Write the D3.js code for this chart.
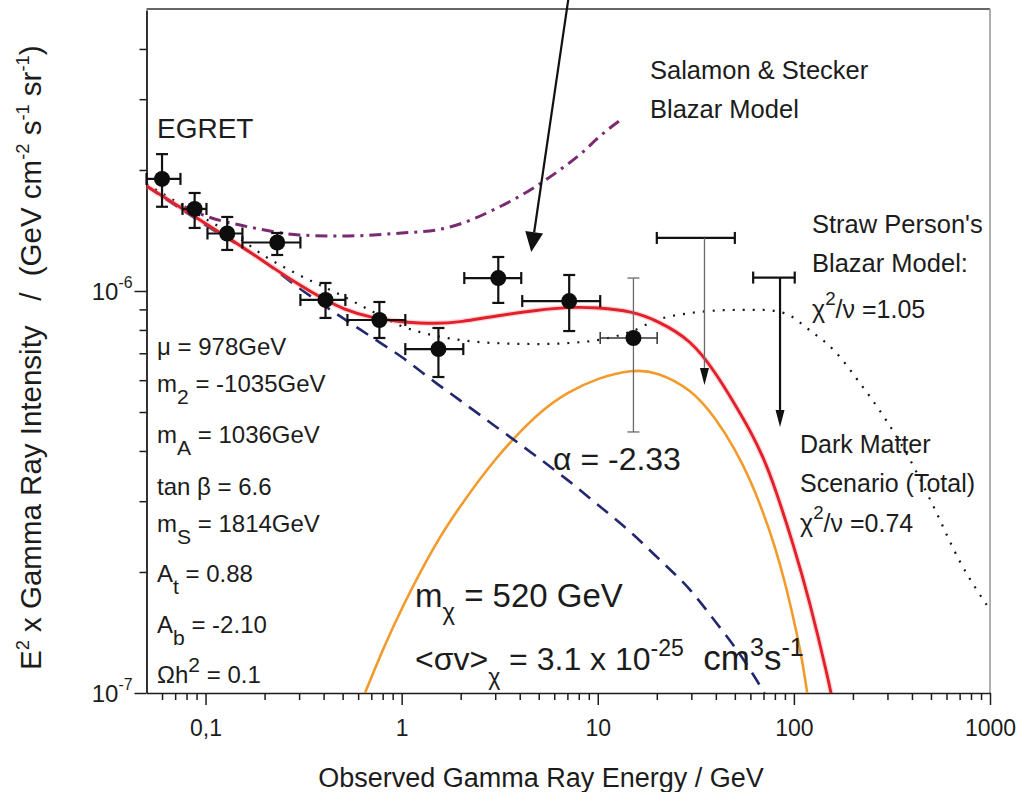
<!DOCTYPE html>
<html>
<head>
<meta charset="utf-8">
<script src="https://cdn.jsdelivr.net/npm/d3@7"></script>
<style>
  html, body { margin: 0; padding: 0; background: #fff; }
  svg { display: block; font-family: "Liberation Sans", Arial, Helvetica, sans-serif; }
</style>
</head>
<body>
<svg id="chart" width="1029" height="792"></svg>
<script>
// ---- EGRET extragalactic gamma-ray background ----
// energies in GeV, E^2 x intensity in units of 1e-6 GeV cm^-2 s^-1 sr^-1
const egretE   = [0.060, 0.088, 0.129, 0.232, 0.409, 0.770, 1.54, 3.11, 7.15, 15.2];
const egretI   = [1.90, 1.60, 1.39, 1.32, 0.950, 0.847, 0.717, 1.077, 0.944, 0.764];
const egretIlo = [1.62, 1.435, 1.265, 1.229, 0.857, 0.764, 0.611, 0.934, 0.795, 0.446];
const egretIhi = [2.19, 1.753, 1.528, 1.394, 1.047, 0.939, 0.809, 1.215, 1.096, 1.077];
const egretElo = [0.05, 0.0763, 0.1023, 0.1542, 0.3046, 0.529, 1.044, 2.086, 4.12, 10.29];
const egretEhi = [0.0745, 0.1011, 0.1542, 0.3046, 0.5164, 1.044, 2.062, 4.072, 10.29, 20.08];

// upper limits at the highest energies
const limitE     = [35, 85];
const limitElo   = [20, 62];
const limitEhi   = [50, 101];
const limitI     = [1.355, 1.08];
const limitArrow = [0.584, 0.459];

// model curves: [energy GeV, E^2 x intensity / 1e-6]
const totalCurve = [[0.05,1.824],[0.07,1.646],[0.1,1.47],[0.15,1.30],[0.2,1.18],[0.3,1.035],[0.4,0.955],
  [0.5,0.902],[0.7,0.857],[1,0.837],[1.5,0.828],[2,0.837],[3,0.867],[5,0.897],[7,0.912],[10,0.91],
  [15,0.89],[20,0.845],[30,0.755],[40,0.625],[50,0.523],[60,0.449],[70,0.385],[80,0.325],[100,0.232],
  [120,0.170],[150,0.108],[160,0.092]];

const powerLawCurve = [[0.05,1.824],[0.1,1.459],[0.2,1.181],[0.3,1.017],[0.5,0.857],[0.7,0.769],[1,0.685],
  [1.5,0.590],[2,0.533],[3,0.461],[5,0.384],[7,0.339],[10,0.294],[15,0.249],[20,0.218],[30,0.179],
  [40,0.150],[50,0.130],[60,0.114],[70,0.1006],[80,0.088]];

const darkMatterCurve = [[0.65,0.100],[0.8,0.128],[1,0.163],[1.5,0.238],[2,0.293],[3,0.385],[5,0.500],
  [7,0.560],[10,0.608],[15,0.638],[20,0.630],[30,0.570],[40,0.482],[50,0.405],[60,0.339],[70,0.280],
  [80,0.232],[90,0.189],[100,0.152],[110,0.122],[117,0.100],[125,0.080]];

const strawCurve = [[0.05,1.846],[0.1,1.511],[0.15,1.347],[0.2,1.222],[0.3,1.096],[0.5,0.972],[0.7,0.892],
  [1,0.818],[1.5,0.773],[2,0.755],[3,0.742],[5,0.738],[7,0.742],[10,0.755],[15,0.795],[20,0.847],
  [30,0.882],[50,0.897],[70,0.897],[90,0.880],[120,0.800],[160,0.712],[220,0.585],[285,0.490],
  [380,0.390],[500,0.300],[700,0.213],[1000,0.161]];

const salamonCurve = [[0.078,1.62],[0.1,1.537],[0.15,1.459],[0.2,1.418],[0.3,1.378],[0.5,1.370],[1,1.394],
  [1.5,1.418],[2,1.47],[3,1.60],[4.7,1.804],[6.4,2.0],[8.4,2.217],[10,2.40],[11.2,2.515],[13.5,2.694]];

// pointer arrow from above the frame down to the data
const pointerFrom = [7.07, 5.30];
const pointerTo   = [4.58, 1.25];

// axis ticks
const xMajorTicks = [0.1, 1, 10, 100, 1000];
const xTickLabels = ["0,1", "1", "10", "100", "1000"];
const yMajorTicks = [1e-7, 1e-6];
const yTickExp    = ["-7", "-6"];

// ---- drawing ----
const U = 1e-6;
const svg = d3.select("#chart");
svg.append("rect").attr("width", 1029).attr("height", 792).attr("fill", "#fff");

const x = d3.scaleLog().domain([0.05, 1000]).range([146.5, 990]);
const y = d3.scaleLog().domain([1e-7, 5e-6]).range([693, 10]);
const X0 = x(0.05), X1 = x(1000), Y0 = y(1e-7), Y1 = y(5e-6);
const ink = "#1c1c1c";

// minor tick positions per decade
const xMinorTicks = [];
[0.01, 0.1, 1, 10, 100].forEach(d => { for (let k = 2; k <= 9; k++) { const v = k * d; if (v > 0.05 && v < 1000) xMinorTicks.push(v); } });
const yMinorTicks = [];
[1e-7, 1e-6].forEach(d => { for (let k = 2; k <= 9; k++) { const v = k * d; if (v < 4.9e-6) yMinorTicks.push(v); } });

// rich text helper: parts are {t, s, f} where s is "sup", "sub" or undefined, f an optional size
function rich(parent, px, py, parts, size, opt = {}) {
  const supShift = opt.sup ?? -0.42 * size;
  const subShift = opt.sub ?? 0.42 * size;
  const scale = opt.scale ?? 0.72;
  const t = parent.append("text")
    .attr("x", px).attr("y", py)
    .attr("font-size", size).attr("fill", ink)
    .attr("text-anchor", opt.anchor || "start");
  let off = 0;
  parts.forEach(p => {
    const target = p.s === "sup" ? supShift : p.s === "sub" ? subShift : 0;
    const base = p.f ?? size;
    t.append("tspan")
      .attr("dy", target - off)
      .attr("font-size", p.s ? base * scale : base)
      .text(p.t);
    off = target;
  });
  return t;
}

// clip region for the curves
svg.append("clipPath").attr("id", "plotClip")
  .append("rect").attr("x", X0).attr("y", Y1).attr("width", X1 - X0).attr("height", Y0 - Y1);

// frame: top and right edges
svg.append("line").attr("x1", X0).attr("x2", X1).attr("y1", Y1 - 1).attr("y2", Y1 - 1)
  .attr("stroke", "#333").attr("stroke-width", 1.6);
svg.append("line").attr("x1", X1).attr("x2", X1).attr("y1", Y1 - 1).attr("y2", Y0)
  .attr("stroke", "#9a9a9a").attr("stroke-width", 1.6);

// x axis
const gx = svg.append("g").attr("transform", `translate(0,${Y0})`);
gx.call(d3.axisBottom(x).tickValues(xMinorTicks).tickSize(7).tickSizeOuter(0).tickFormat(""));
const gxMaj = svg.append("g").attr("transform", `translate(0,${Y0})`);
gxMaj.call(d3.axisBottom(x).tickValues(xMajorTicks).tickSize(12).tickSizeOuter(0)
  .tickPadding(15).tickFormat((d, i) => xTickLabels[i]));
gxMaj.select(".domain").remove();
[gx, gxMaj].forEach(g => {
  g.selectAll("line").attr("stroke", ink).attr("stroke-width", 1.5);
  g.select(".domain").attr("stroke", ink).attr("stroke-width", 1.6);
});
gxMaj.selectAll("text").attr("font-size", 23).attr("fill", ink)
  .attr("font-family", "Liberation Sans, Arial, sans-serif");

// y axis
const gy = svg.append("g").attr("transform", `translate(${X0},0)`);
gy.call(d3.axisLeft(y).tickValues(yMinorTicks).tickSize(7).tickSizeOuter(0).tickFormat(""));
const gyMaj = svg.append("g").attr("transform", `translate(${X0},0)`);
gyMaj.call(d3.axisLeft(y).tickValues(yMajorTicks).tickSize(12).tickSizeOuter(0).tickFormat(""));
gyMaj.select(".domain").remove();
[gy, gyMaj].forEach(g => {
  g.selectAll("line").attr("stroke", ink).attr("stroke-width", 1.5);
  g.select(".domain").attr("stroke", ink).attr("stroke-width", 1.8);
});
yMajorTicks.forEach((v, i) => {
  rich(svg, X0 - 14, y(v) + 9, [{ t: "10" }, { t: yTickExp[i], s: "sup" }], 24,
    { anchor: "end", sup: -12, scale: 0.66 });
});

// axis titles
svg.append("text").attr("x", 541).attr("y", 787).attr("text-anchor", "middle")
  .attr("font-size", 27).attr("fill", ink).text("Observed Gamma Ray Energy / GeV");
const yTitle = svg.append("g").attr("transform", "translate(41,670) rotate(-90)");
rich(yTitle, 0, 0, [
  { t: "E" }, { t: "2", s: "sup" },
  { t: " x Gamma Ray Intensity\u00a0\u00a0\u00a0/\u00a0\u00a0(GeV cm" }, { t: "-2", s: "sup" },
  { t: " s" }, { t: "-1", s: "sup" }, { t: " sr" }, { t: "-1", s: "sup" }, { t: ")" }
], 29.5, { sup: -12, scale: 0.62 });

// model curves
const line = d3.line().x(d => x(d[0])).y(d => y(d[1] * U)).curve(d3.curveMonotoneX);
const smooth = d3.line().x(d => x(d[0])).y(d => y(d[1] * U)).curve(d3.curveBasis);
const curves = svg.append("g").attr("clip-path", "url(#plotClip)").attr("fill", "none");

curves.append("path").datum(darkMatterCurve).attr("d", smooth)
  .attr("stroke", "#f39a2c").attr("stroke-width", 2.6);
curves.append("path").datum(powerLawCurve).attr("d", line)
  .attr("stroke", "#22276e").attr("stroke-width", 2.6).attr("stroke-dasharray", "14,9");
curves.append("path").datum(strawCurve).attr("d", line)
  .attr("stroke", "#151515").attr("stroke-width", 2.2).attr("stroke-dasharray", "2,8");
curves.append("path").datum(salamonCurve).attr("d", line)
  .attr("stroke", "#7a2a72").attr("stroke-width", 3).attr("stroke-dasharray", "12,6,3,6");
curves.append("path").datum(totalCurve).attr("d", smooth)
  .attr("stroke", "#f28c90").attr("stroke-width", 5.5).attr("stroke-opacity", 0.35);
curves.append("path").datum(totalCurve).attr("d", smooth)
  .attr("stroke", "#e2202b").attr("stroke-width", 2.9);

// arrow helper: straight shaft with a filled triangular head at the tip
function arrow(parent, x1, y1, x2, y2, headLen, headHalf, shaftColor, shaftWidth) {
  const dx = x2 - x1, dy = y2 - y1, L = Math.hypot(dx, dy);
  const ux = dx / L, uy = dy / L;
  const bx = x2 - ux * headLen, by = y2 - uy * headLen;
  parent.append("line").attr("x1", x1).attr("y1", y1).attr("x2", bx).attr("y2", by)
    .attr("stroke", shaftColor).attr("stroke-width", shaftWidth);
  parent.append("path")
    .attr("d", `M${x2},${y2}L${bx - uy * headHalf},${by + ux * headHalf}L${bx + uy * headHalf},${by - ux * headHalf}Z`)
    .attr("fill", "#111");
}

// EGRET data points with error bars
const marks = svg.append("g");
egretE.forEach((e, i) => {
  const thin = i === egretE.length - 1;
  const cx = x(e), cy = y(egretI[i] * U);
  const vCol = thin ? "#6a6a6a" : "#111", vW = thin ? 1.3 : 2.2;
  const hCol = thin ? "#333" : "#111", hW = thin ? 1.5 : 2.2;
  // vertical error bar and caps
  marks.append("line").attr("x1", cx).attr("x2", cx)
    .attr("y1", y(egretIhi[i] * U)).attr("y2", y(egretIlo[i] * U))
    .attr("stroke", vCol).attr("stroke-width", vW);
  [egretIhi[i], egretIlo[i]].forEach(v => {
    marks.append("line").attr("x1", cx - 6).attr("x2", cx + 6)
      .attr("y1", y(v * U)).attr("y2", y(v * U)).attr("stroke", vCol).attr("stroke-width", vW);
  });
  // horizontal error bar and caps
  marks.append("line").attr("x1", x(egretElo[i])).attr("x2", x(egretEhi[i]))
    .attr("y1", cy).attr("y2", cy).attr("stroke", hCol).attr("stroke-width", hW);
  [egretElo[i], egretEhi[i]].forEach(v => {
    marks.append("line").attr("x1", x(v)).attr("x2", x(v))
      .attr("y1", cy - 6).attr("y2", cy + 6).attr("stroke", hCol).attr("stroke-width", hW);
  });
  marks.append("circle").attr("cx", cx).attr("cy", cy).attr("r", 8).attr("fill", "#0d0d0d");
});

// upper limits
limitE.forEach((e, i) => {
  const cx = x(e), top = y(limitI[i] * U);
  marks.append("line").attr("x1", x(limitElo[i])).attr("x2", x(limitEhi[i]))
    .attr("y1", top).attr("y2", top).attr("stroke", "#111").attr("stroke-width", 2.2);
  [limitElo[i], limitEhi[i]].forEach(v => {
    marks.append("line").attr("x1", x(v)).attr("x2", x(v)).attr("y1", top - 6).attr("y2", top + 6)
      .attr("stroke", "#111").attr("stroke-width", 2.2);
  });
  const first = i === 0;
  arrow(marks, cx, top, cx, y(limitArrow[i] * U), 17, 4.5,
    first ? "#6a6a6a" : "#111", first ? 1.3 : 2.2);
});

// pointer from above the frame
arrow(svg, x(pointerFrom[0]), y(pointerFrom[1] * U), x(pointerTo[0]), y(pointerTo[1] * U), 20, 9, "#111", 2.2);

// annotations
svg.append("text").attr("x", 157).attr("y", 138).attr("font-size", 28).attr("fill", ink).text("EGRET");

const note = (px, py, str, size) =>
  svg.append("text").attr("x", px).attr("y", py).attr("font-size", size).attr("fill", ink).text(str);
note(650, 79, "Salamon & Stecker", 25.5);
note(650, 118, "Blazar Model", 25.5);
note(812, 233, "Straw Person's", 25.5);
note(812, 272, "Blazar Model:", 25.5);
rich(svg, 812, 318, [{ t: "\u03c7" }, { t: "2", s: "sup" }, { t: "/\u03bd =1.05" }], 25, { sup: -13, scale: 0.75 });
note(800, 453, "Dark Matter", 25);
note(800, 492, "Scenario (Total)", 25);
rich(svg, 800, 532, [{ t: "\u03c7" }, { t: "2", s: "sup" }, { t: "/\u03bd =0.74" }], 25, { sup: -13, scale: 0.75 });

note(553, 470, "\u03b1 = -2.33", 32);

rich(svg, 415, 607, [{ t: "m" }, { t: "\u03c7", s: "sub" }, { t: " = 520 GeV" }], 33, { sub: 13, scale: 0.72 });
rich(svg, 415, 670, [
  { t: "<\u03c3v>" }, { t: "\u03c7", s: "sub" }, { t: " = 3.1 x 10" }, { t: "-25", s: "sup" },
  { t: "\u00a0\u00a0cm", f: 35 }, { t: "3", s: "sup", f: 35 }, { t: "s", f: 35 }, { t: "-1", s: "sup", f: 35 }
], 32, { sub: 15, sup: -14, scale: 0.72 });

// SUSY parameter list
const params = [
  { yb: 355, parts: [{ t: "\u03bc = 978GeV" }] },
  { yb: 392, parts: [{ t: "m" }, { t: "2", s: "sub" }, { t: " = -1035GeV" }] },
  { yb: 443, parts: [{ t: "m" }, { t: "A", s: "sub" }, { t: " = 1036GeV" }] },
  { yb: 495, parts: [{ t: "tan \u03b2 = 6.6" }] },
  { yb: 532, parts: [{ t: "m" }, { t: "S", s: "sub" }, { t: " = 1814GeV" }] },
  { yb: 582, parts: [{ t: "A" }, { t: "t", s: "sub" }, { t: " = 0.88" }] },
  { yb: 633, parts: [{ t: "A" }, { t: "b", s: "sub" }, { t: " = -2.10" }] },
  { yb: 683, parts: [{ t: "\u03a9h" }, { t: "2", s: "sup" }, { t: " = 0.1" }] }
];
params.forEach(p => rich(svg, 157, p.yb, p.parts, 24, { sub: 12, sup: -11, scale: 0.88 }));
</script>
</body>
</html>
